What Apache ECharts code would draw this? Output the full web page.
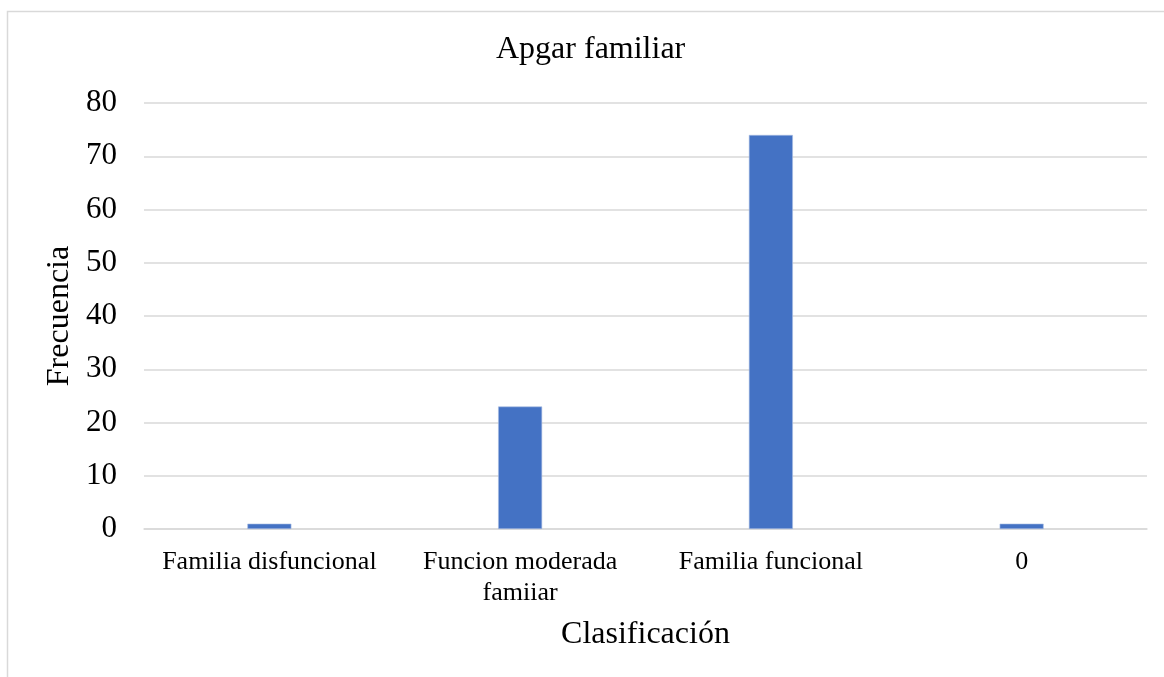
<!DOCTYPE html>
<html>
<head>
<meta charset="utf-8">
<style>
  html, body { margin: 0; padding: 0; background: #ffffff; }
  #chart { width: 1164px; height: 677px; }
</style>
<script src="https://cdn.jsdelivr.net/npm/echarts@6/dist/echarts.min.js"></script>
</head>
<body>
<div id="chart"></div>
<script>
// Apgar familiar: frecuencia por clasificación
const categories = ['Familia disfuncional', 'Funcion moderada\nfamiiar', 'Familia funcional', '0'];
const frecuencia = [1, 23, 74, 1];
const yTicks = { min: 0, max: 80, interval: 10 };

const serif = '"Liberation Serif", "Times New Roman", serif';
const chart = echarts.init(document.getElementById('chart'), null, { renderer: 'canvas' });

chart.setOption({
  backgroundColor: '#ffffff',
  animation: false,
  graphic: [{
    type: 'rect',
    shape: { x: 7.5, y: 11.5, width: 1200, height: 700 },
    style: { fill: 'none', stroke: '#d9d9d9', lineWidth: 1.5 },
    silent: true
  }],
  title: {
    text: 'Apgar familiar',
    left: 496,
    top: 34,
    padding: 0,
    textStyle: { fontFamily: serif, fontSize: 32, fontWeight: 'normal', color: '#000' }
  },
  grid: { left: 144, right: 17, top: 103, bottom: 148, containLabel: false },
  xAxis: {
    type: 'category',
    data: categories,
    name: 'Clasificación',
    nameLocation: 'middle',
    nameGap: 90,
    nameTextStyle: { fontFamily: serif, fontSize: 32, color: '#000' },
    axisLine: { show: true, lineStyle: { color: '#d9d9d9', width: 1.5 } },
    axisTick: { show: false },
    axisLabel: {
      fontFamily: serif, fontSize: 26, color: '#000', margin: 18,
      lineHeight: 31, interval: 0
    },
    splitLine: { show: false }
  },
  yAxis: {
    type: 'value',
    min: yTicks.min,
    max: yTicks.max,
    interval: yTicks.interval,
    name: 'Frecuencia',
    nameLocation: 'middle',
    nameGap: 66,
    nameRotate: 90,
    nameTextStyle: { fontFamily: serif, fontSize: 32, color: '#000' },
    axisLine: { show: false },
    axisTick: { show: false },
    axisLabel: { fontFamily: serif, fontSize: 31, color: '#000', margin: 27 },
    splitLine: { lineStyle: { color: '#d9d9d9', width: 1.5 } }
  },
  series: [{
    type: 'bar',
    data: frecuencia,
    barWidth: 44,
    itemStyle: { color: '#4472c4', borderColor: '#a9bde3', borderWidth: 0.6 }
  }]
});
</script>
</body>
</html>
